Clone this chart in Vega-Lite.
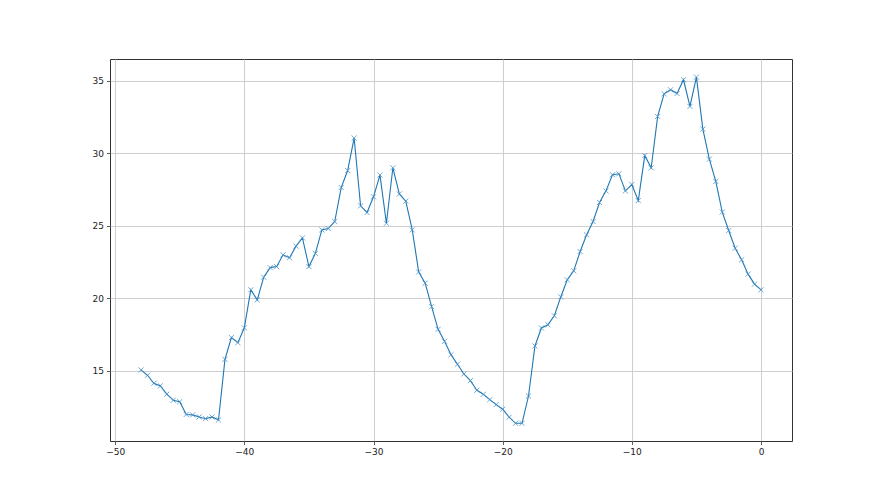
{
  "$schema": "https://vega.github.io/schema/vega-lite/v6.json",
  "width": 682,
  "height": 382,
  "autosize": {"type": "none"},
  "padding": {"left": 110, "top": 59, "right": 88, "bottom": 54},
  "background": "white",
  "config": {
    "view": {"stroke": "#333333", "strokeWidth": 1},
    "axis": {
      "grid": true,
      "gridColor": "#c8c8c8",
      "gridWidth": 0.9,
      "domain": false,
      "tickColor": "#333333",
      "tickSize": 3.5,
      "tickWidth": 0.8,
      "labelFont": "DejaVu Sans",
      "labelFontSize": 9,
      "labelColor": "#222222",
      "labelPadding": 3,
      "title": null
    }
  },
  "data": {"values": [
    {"x": -48, "y": 15.07}, {"x": -47.5, "y": 14.7}, {"x": -47, "y": 14.15}, {"x": -46.5, "y": 13.97},
    {"x": -46, "y": 13.4}, {"x": -45.5, "y": 12.98}, {"x": -45, "y": 12.88}, {"x": -44.5, "y": 12.0},
    {"x": -44, "y": 11.97}, {"x": -43.5, "y": 11.83}, {"x": -43, "y": 11.71}, {"x": -42.5, "y": 11.83},
    {"x": -42, "y": 11.62}, {"x": -41.5, "y": 15.8}, {"x": -41, "y": 17.3}, {"x": -40.5, "y": 16.95},
    {"x": -40, "y": 17.97}, {"x": -39.5, "y": 20.59}, {"x": -39, "y": 19.9}, {"x": -38.5, "y": 21.46},
    {"x": -38, "y": 22.12}, {"x": -37.5, "y": 22.19}, {"x": -37, "y": 23.0}, {"x": -36.5, "y": 22.8},
    {"x": -36, "y": 23.6}, {"x": -35.5, "y": 24.17}, {"x": -35, "y": 22.19}, {"x": -34.5, "y": 23.1},
    {"x": -34, "y": 24.72}, {"x": -33.5, "y": 24.81}, {"x": -33, "y": 25.3}, {"x": -32.5, "y": 27.64},
    {"x": -32, "y": 28.81}, {"x": -31.5, "y": 31.05}, {"x": -31, "y": 26.38}, {"x": -30.5, "y": 25.92},
    {"x": -30, "y": 27.0}, {"x": -29.5, "y": 28.5}, {"x": -29, "y": 25.18}, {"x": -28.5, "y": 29.0},
    {"x": -28, "y": 27.2}, {"x": -27.5, "y": 26.7}, {"x": -27, "y": 24.72}, {"x": -26.5, "y": 21.82},
    {"x": -26, "y": 21.05}, {"x": -25.5, "y": 19.43}, {"x": -25, "y": 17.87}, {"x": -24.5, "y": 17.04},
    {"x": -24, "y": 16.12}, {"x": -23.5, "y": 15.46}, {"x": -23, "y": 14.79}, {"x": -22.5, "y": 14.33},
    {"x": -22, "y": 13.67}, {"x": -21.5, "y": 13.39}, {"x": -21, "y": 13.02}, {"x": -20.5, "y": 12.68},
    {"x": -20, "y": 12.36}, {"x": -19.5, "y": 11.81}, {"x": -19, "y": 11.39}, {"x": -18.5, "y": 11.39},
    {"x": -18, "y": 13.27}, {"x": -17.5, "y": 16.72}, {"x": -17, "y": 17.96}, {"x": -16.5, "y": 18.18},
    {"x": -16, "y": 18.8}, {"x": -15.5, "y": 20.1}, {"x": -15, "y": 21.28}, {"x": -14.5, "y": 21.9},
    {"x": -14, "y": 23.23}, {"x": -13.5, "y": 24.38}, {"x": -13, "y": 25.3}, {"x": -12.5, "y": 26.61},
    {"x": -12, "y": 27.41}, {"x": -11.5, "y": 28.52}, {"x": -11, "y": 28.59}, {"x": -10.5, "y": 27.41},
    {"x": -10, "y": 27.85}, {"x": -9.5, "y": 26.74}, {"x": -9, "y": 29.84}, {"x": -8.5, "y": 29.0},
    {"x": -8, "y": 32.54}, {"x": -7.5, "y": 34.1}, {"x": -7, "y": 34.38}, {"x": -6.5, "y": 34.12},
    {"x": -6, "y": 35.07}, {"x": -5.5, "y": 33.23}, {"x": -5, "y": 35.25}, {"x": -4.5, "y": 31.67},
    {"x": -4, "y": 29.6}, {"x": -3.5, "y": 28.06}, {"x": -3, "y": 25.95}, {"x": -2.5, "y": 24.68},
    {"x": -2, "y": 23.46}, {"x": -1.5, "y": 22.66}, {"x": -1, "y": 21.67}, {"x": -0.5, "y": 20.98},
    {"x": 0, "y": 20.59}
  ]},
  "encoding": {
    "x": {"field": "x", "type": "quantitative",
      "scale": {"domain": [-50.4, 2.4], "nice": false, "zero": false},
      "axis": {"values": [-50, -40, -30, -20, -10, 0]}},
    "y": {"field": "y", "type": "quantitative",
      "scale": {"domain": [10.17, 36.5], "nice": false, "zero": false},
      "axis": {"values": [15, 20, 25, 30, 35]}}
  },
  "layer": [
    {"mark": {"type": "line", "color": "#1f77b4", "strokeWidth": 1.1}},
    {"mark": {"type": "point", "shape": "M-1,-1L1,1M1,-1L-1,1", "filled": false,
      "stroke": "#4a93c8", "strokeWidth": 0.8, "size": 26, "opacity": 1}}
  ]
}
